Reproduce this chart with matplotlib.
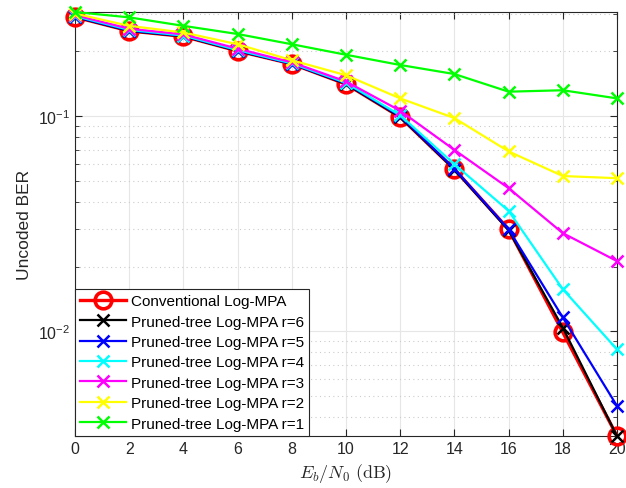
import numpy as np
import matplotlib.pyplot as plt
from matplotlib.ticker import LogLocator, NullFormatter

plt.rcParams['font.family'] = ['Liberation Sans', 'DejaVu Sans']
plt.rcParams['mathtext.fontset'] = 'cm'

snr_db = [0, 2, 4, 6, 8, 10, 12, 14, 16, 18, 20]

ber_conv = [0.289, 0.249, 0.235, 0.201, 0.175, 0.141, 0.099, 0.0567, 0.0298, 0.0099, 0.00326]
ber_r6 = [0.289, 0.249, 0.235, 0.201, 0.175, 0.141, 0.099, 0.0565, 0.0295, 0.0104, 0.00326]
ber_r5 = [0.290, 0.250, 0.236, 0.202, 0.175, 0.142, 0.100, 0.0570, 0.0298, 0.0116, 0.0045]
ber_r4 = [0.292, 0.252, 0.237, 0.203, 0.176, 0.143, 0.101, 0.0598, 0.0363, 0.0157, 0.00824]
ber_r3 = [0.295, 0.255, 0.240, 0.206, 0.178, 0.145, 0.106, 0.0697, 0.0463, 0.0286, 0.0212]
ber_r2 = [0.300, 0.263, 0.245, 0.216, 0.182, 0.155, 0.121, 0.098, 0.0686, 0.0527, 0.0515]
ber_r1 = [0.305, 0.288, 0.263, 0.241, 0.216, 0.193, 0.173, 0.157, 0.130, 0.132, 0.121]

labels = ['Conventional Log-MPA', 'Pruned-tree Log-MPA r=6', 'Pruned-tree Log-MPA r=5',
          'Pruned-tree Log-MPA r=4', 'Pruned-tree Log-MPA r=3', 'Pruned-tree Log-MPA r=2',
          'Pruned-tree Log-MPA r=1']
colors = ['#ff0000', '#000000', '#0000ff', '#00ffff', '#ff00ff', '#ffff00', '#00ff00']
series = [ber_conv, ber_r6, ber_r5, ber_r4, ber_r3, ber_r2, ber_r1]

fig = plt.figure(figsize=(6.26, 4.89), dpi=100)
ax = fig.add_axes([0.1198, 0.1063, 0.8658, 0.8671])

for i, (ys, c, lab) in enumerate(zip(series, colors, labels)):
    if i == 0:
        ax.semilogy(snr_db, ys, '-o', color=c, lw=2.4, ms=12, mew=2.6, mfc='none',
                    label=lab, clip_on=False, zorder=3)
    else:
        ax.semilogy(snr_db, ys, '-x', color=c, lw=1.6, ms=8, mew=1.8,
                    label=lab, clip_on=False, zorder=3)

allv = np.concatenate([np.array(s) for s in series])
ax.set_xlim(0, 20)
ax.set_ylim(allv.min(), allv.max())
ax.set_xticks(snr_db)

ax.yaxis.set_minor_locator(LogLocator(base=10, subs=np.arange(2, 10)))
ax.yaxis.set_minor_formatter(NullFormatter())

ax.grid(True, which='major', color='#e6e6e6', lw=0.8)
ax.grid(True, which='minor', axis='y', color='#cccccc', lw=0.8, ls=(0, (1, 3)))
ax.set_axisbelow(True)

ax.tick_params(which='both', direction='in', top=True, right=True, labelsize=11.5, colors='#262626')
ax.tick_params(which='major', length=5)
ax.tick_params(which='minor', length=3)
for sp in ax.spines.values():
    sp.set_color('#262626')
    sp.set_linewidth(0.8)

ax.set_xlabel(r'$E_b/N_0\ \mathrm{(dB)}$', fontsize=13, color='#262626')
ax.set_ylabel('Uncoded BER', fontsize=12.5, color='#262626')

leg = ax.legend(loc='lower left', fontsize=11, handlelength=3.0, handletextpad=0.3,
                labelspacing=0.42, borderaxespad=0.0, borderpad=0.35, fancybox=False,
                framealpha=1, edgecolor='#262626')
leg.get_frame().set_linewidth(0.8)
leg.set_zorder(5)

fig.savefig('out.png', dpi=100)
